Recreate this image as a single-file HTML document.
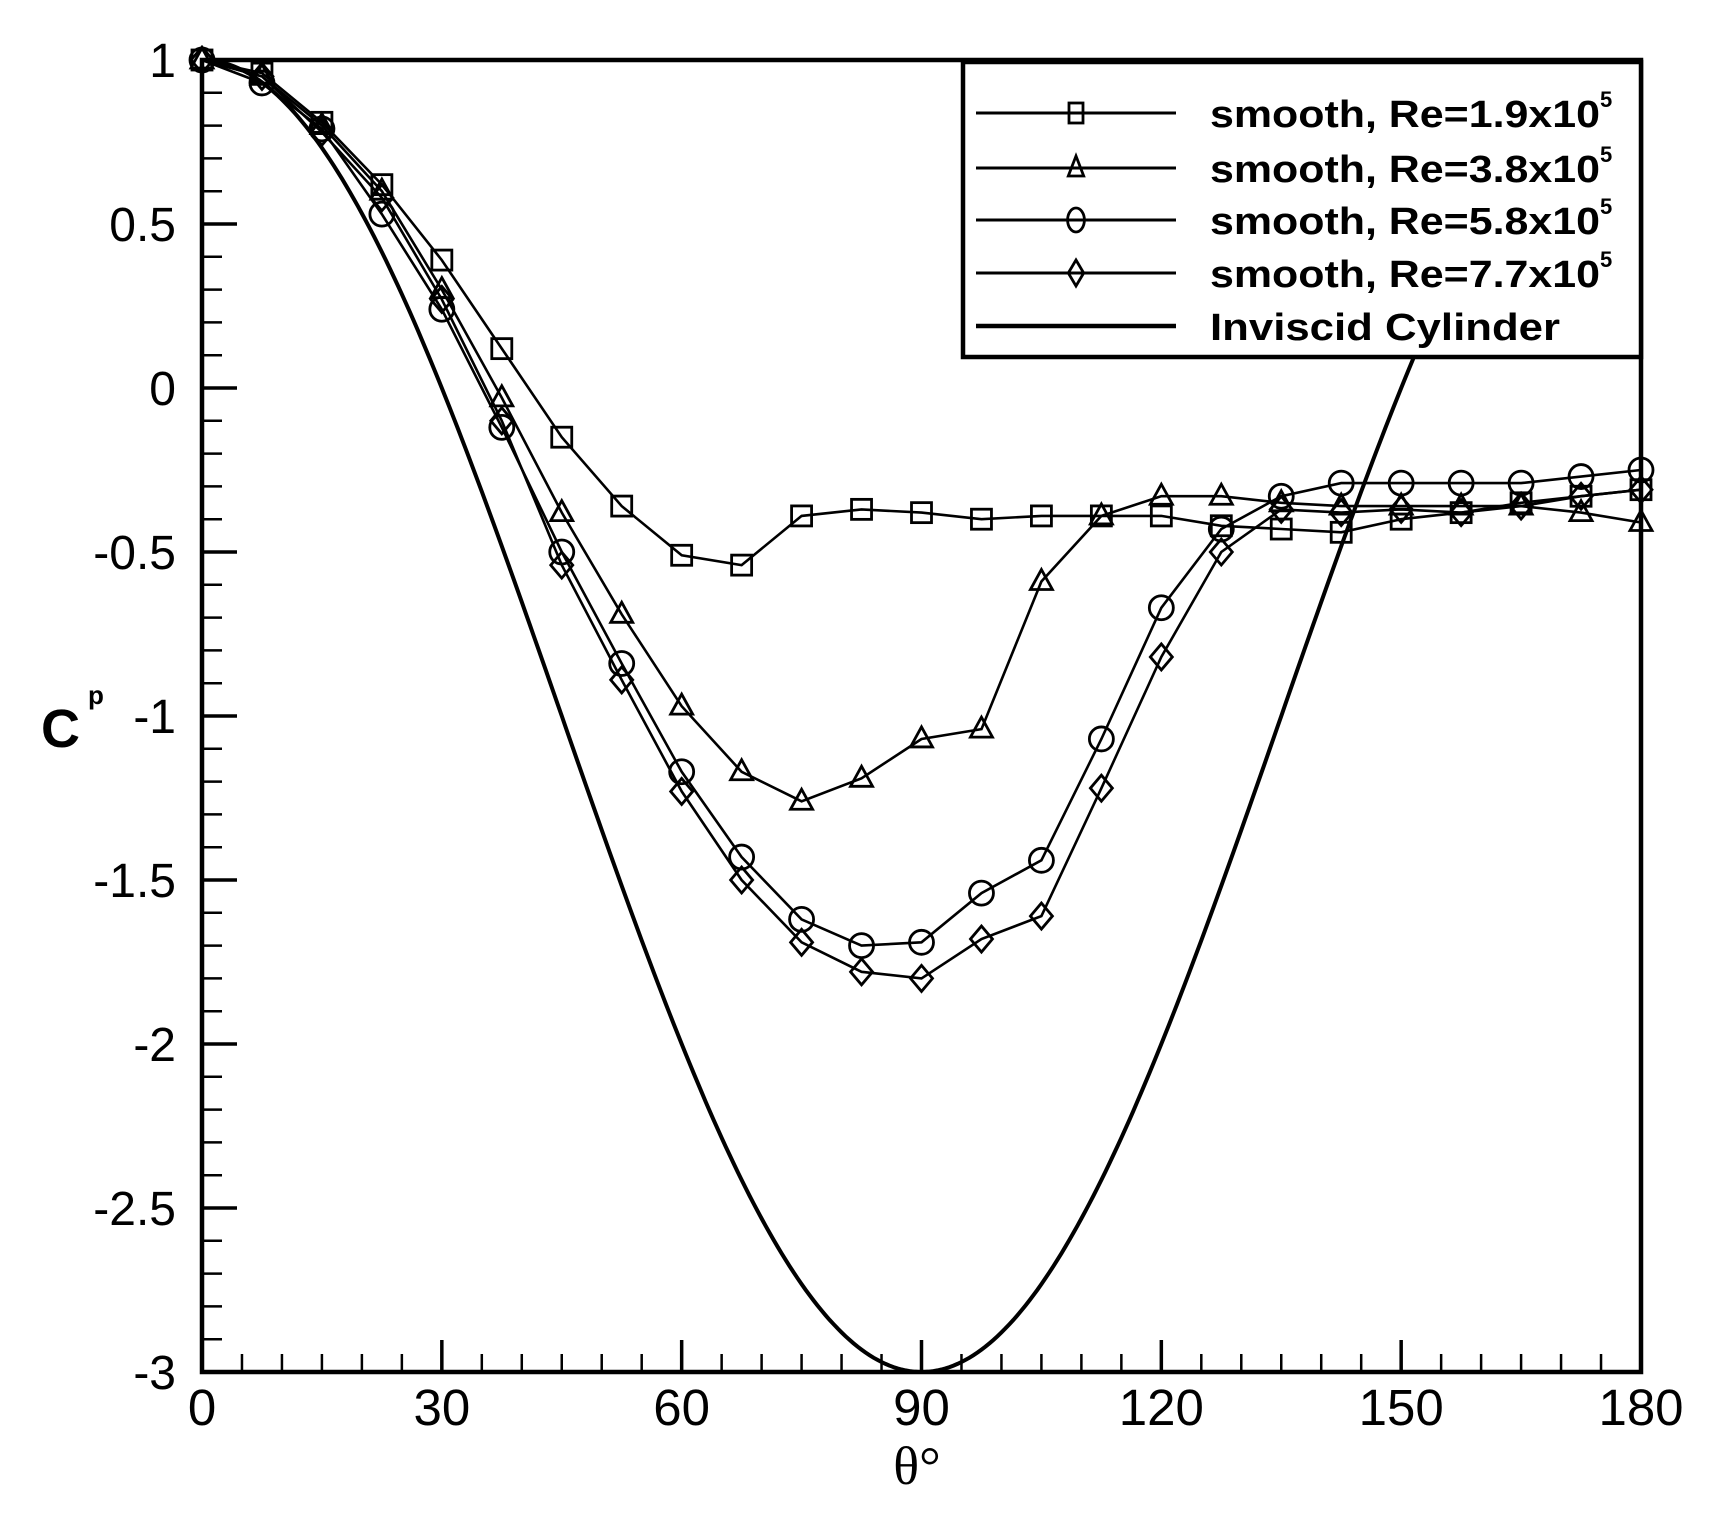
<!DOCTYPE html>
<html><head><meta charset="utf-8"><style>html,body{margin:0;padding:0;background:#fff}svg{display:block}</style></head>
<body>
<svg id="s" width="1711" height="1524" viewBox="0 0 1711 1524" xmlns="http://www.w3.org/2000/svg" font-family="Liberation Sans, sans-serif"></svg>
<script>
const L=202,R=1641,T=60,B=1372;
const X=d=>L+(d/180)*(R-L), Y=v=>T+(1-v)/4*(B-T);
let h='';
let p='';for(let d=0;d<=180;d+=0.5){const v=1-4*Math.sin(d*Math.PI/180)**2;p+=(d?'L':'M')+X(d).toFixed(1)+','+Y(v).toFixed(1);}
h+=`<path d="${p}" fill="none" stroke="#000" stroke-width="4"/>`;
const S={
sq:[1,0.96,0.81,0.62,0.39,0.12,-0.15,-0.36,-0.51,-0.54,-0.39,-0.37,-0.38,-0.40,-0.39,-0.39,-0.39,-0.42,-0.43,-0.44,-0.40,-0.38,-0.35,-0.33,-0.31],
tr:[1,0.95,0.80,0.60,0.30,-0.03,-0.38,-0.69,-0.97,-1.17,-1.26,-1.19,-1.07,-1.04,-0.59,-0.39,-0.33,-0.33,-0.35,-0.36,-0.36,-0.36,-0.36,-0.38,-0.41],
ci:[1,0.93,0.79,0.53,0.24,-0.12,-0.50,-0.84,-1.17,-1.43,-1.62,-1.70,-1.69,-1.54,-1.44,-1.07,-0.67,-0.43,-0.33,-0.29,-0.29,-0.29,-0.29,-0.27,-0.25],
di:[1,0.95,0.78,0.58,0.27,-0.10,-0.54,-0.89,-1.23,-1.50,-1.69,-1.78,-1.80,-1.68,-1.61,-1.22,-0.82,-0.50,-0.37,-0.38,-0.37,-0.38,-0.36,-0.33,-0.31]};
function mk(t,x,y,sx,sy){sx=sx||1;sy=sy||1;const st='fill="none" stroke="#000" stroke-width="2.8"';
 if(t=='sq')return `<rect x="${x-10*sx}" y="${y-10*sy}" width="${20*sx}" height="${20*sy}" ${st}/>`;
 if(t=='tr')return `<polygon points="${x},${y-12*sy} ${x+11*sx},${y+8*sy} ${x-11*sx},${y+8*sy}" ${st}/>`;
 if(t=='ci')return `<ellipse cx="${x}" cy="${y}" rx="${12*sx}" ry="${12*sy}" ${st}/>`;
 return `<polygon points="${x},${y-13*sy} ${x+11*sx},${y} ${x},${y+13*sy} ${x-11*sx},${y}" ${st}/>`;}
for(const k in S){let q='',m='';S[k].forEach((v,i)=>{const x=X(i*7.5),y=Y(v);q+=(i?'L':'M')+x.toFixed(1)+','+y.toFixed(1);m+=mk(k,x,y);});
 h+=`<path d="${q}" fill="none" stroke="#000" stroke-width="2.6"/>`+m;}
for(let d=0;d<=180;d+=5){const x=X(d),maj=d%30==0;h+=`<line x1="${x}" y1="${B}" x2="${x}" y2="${B-(maj?32:18)}" stroke="#000" stroke-width="${maj?3.5:2.5}"/>`;
 if(maj)h+=`<text x="${x}" y="1425" font-size="51" text-anchor="middle">${d}</text>`;}
for(let i=0;i<=40;i++){const v=1-i*0.1,y=Y(v),maj=i%5==0;h+=`<line x1="${L}" y1="${y}" x2="${L+(maj?35:20)}" y2="${y}" stroke="#000" stroke-width="${maj?3.5:2.5}"/>`;
 if(maj){let s=(Math.round(v*10)/10).toString();h+=`<text x="176" y="${y+17}" font-size="48" text-anchor="end">${s}</text>`;}}
h+=`<rect x="${L}" y="${T}" width="${R-L}" height="${B-T}" fill="none" stroke="#000" stroke-width="4.5"/>`;
h+=`<rect x="963" y="62" width="678" height="295" fill="#fff" stroke="#000" stroke-width="4.5"/>`;
const lab=['1.9','3.8','5.8','7.7'],ks=['sq','tr','ci','di'],ly=[113,168,220,273];
ks.forEach((k,i)=>{h+=`<line x1="976" y1="${ly[i]}" x2="1176" y2="${ly[i]}" stroke="#000" stroke-width="3"/>`+mk(k,1076,ly[i],0.7,1);
 h+=`<text x="1210" y="${ly[i]+14}" font-size="38" font-weight="bold"><tspan textLength="390" lengthAdjust="spacingAndGlyphs">smooth, Re=${lab[i]}x10</tspan><tspan dy="-20" font-size="22">5</tspan></text>`;});
h+=`<line x1="976" y1="326" x2="1176" y2="326" stroke="#000" stroke-width="4.5"/><text x="1210" y="340" font-size="38" font-weight="bold" textLength="350" lengthAdjust="spacingAndGlyphs">Inviscid Cylinder</text>`;
h+=`<text x="41" y="747" font-size="54" font-weight="bold">C</text><text x="88" y="704" font-size="26" font-weight="bold">p</text>`;
h+=`<text x="917" y="1484" font-size="54" font-family="Liberation Serif, serif" text-anchor="middle">θ°</text>`;
document.getElementById('s').innerHTML=h;
</script>
</body></html>
